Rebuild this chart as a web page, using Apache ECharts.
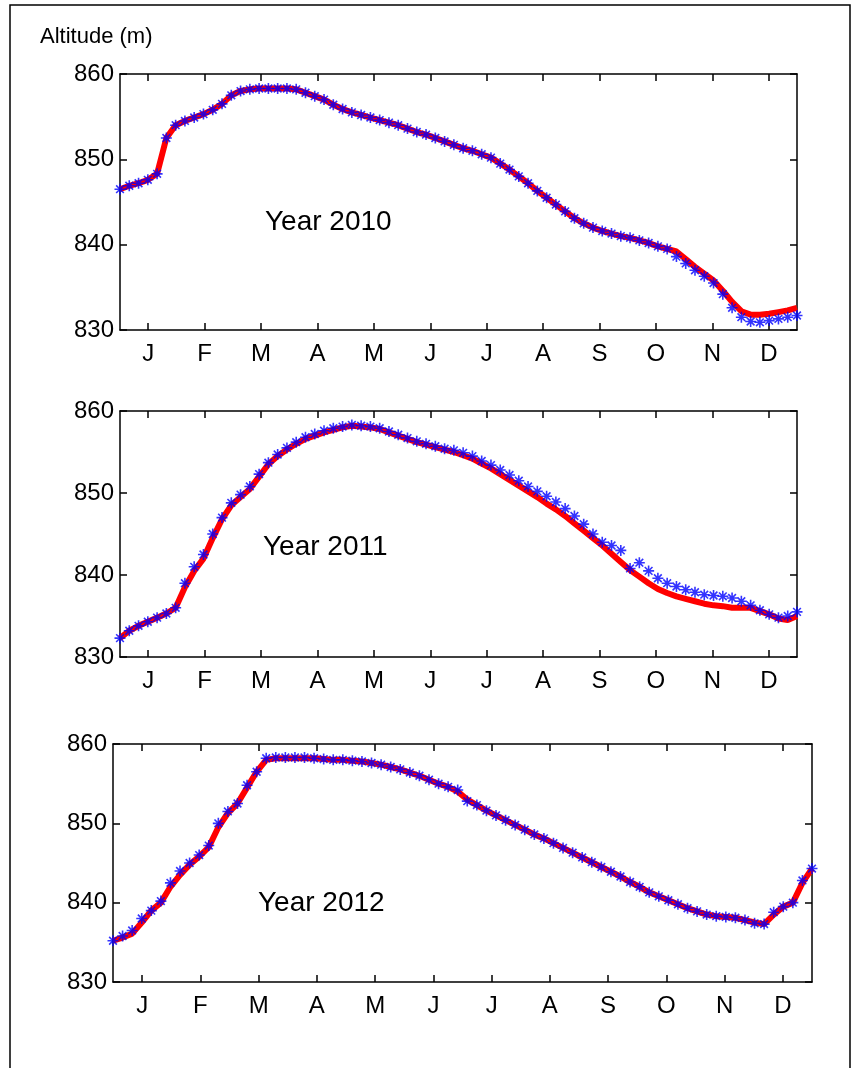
<!DOCTYPE html>
<html>
<head>
<meta charset="utf-8">
<script src="https://cdn.jsdelivr.net/npm/echarts@6/dist/echarts.min.js"></script>
<style>html,body{margin:0;padding:0;background:#fff}#chart{width:854px;height:1068px}</style>
</head>
<body>
<div id="chart"></div>
<script>
const months = ['J', 'F', 'M', 'A', 'M', 'J', 'J', 'A', 'S', 'O', 'N', 'D']
const years = ['Year 2010', 'Year 2011', 'Year 2012']
// altitude every 5 days, day 0..365
const red2010 = [846.5, 846.9, 847.2, 847.6, 848.3, 852.5, 854, 854.5, 854.9, 855.3, 855.8, 856.5, 857.5, 858, 858.2, 858.3, 858.3, 858.3, 858.3, 858.2, 857.8, 857.4, 857, 856.4, 855.9, 855.5, 855.2, 854.9, 854.6, 854.3, 854, 853.6, 853.2, 852.9, 852.5, 852.1, 851.7, 851.3, 851, 850.6, 850.2, 849.5, 848.8, 848, 847.2, 846.3, 845.5, 844.7, 843.9, 843.1, 842.5, 842, 841.6, 841.3, 841, 840.8, 840.5, 840.2, 839.8, 839.5, 839.2, 838.3, 837.4, 836.6, 835.8, 834.6, 833.3, 832.2, 831.8, 831.8, 831.9, 832.1, 832.3, 832.6]
const blue2010 = [846.5, 846.9, 847.2, 847.6, 848.3, 852.5, 854, 854.5, 854.9, 855.3, 855.8, 856.5, 857.5, 858, 858.2, 858.3, 858.3, 858.3, 858.3, 858.2, 857.8, 857.4, 857, 856.4, 855.9, 855.5, 855.2, 854.9, 854.6, 854.3, 854, 853.6, 853.2, 852.9, 852.5, 852.1, 851.7, 851.3, 851, 850.6, 850.2, 849.5, 848.8, 848, 847.2, 846.3, 845.5, 844.7, 843.9, 843.1, 842.5, 842, 841.6, 841.3, 841, 840.8, 840.5, 840.2, 839.8, 839.5, 838.6, 837.8, 837, 836.3, 835.5, 834.2, 832.6, 831.5, 831, 830.9, 831.1, 831.3, 831.5, 831.7]
const red2011 = [832.3, 833.2, 833.8, 834.3, 834.8, 835.3, 836, 838.5, 840.5, 842, 844.5, 846.8, 848.5, 849.5, 850.5, 852, 853.5, 854.5, 855.3, 856, 856.6, 857, 857.4, 857.7, 858, 858.2, 858.1, 858, 857.8, 857.4, 857, 856.6, 856.2, 855.9, 855.6, 855.3, 855, 854.6, 854.2, 853.6, 853, 852.3, 851.6, 850.9, 850.2, 849.5, 848.7, 848, 847.2, 846.3, 845.4, 844.5, 843.6, 842.6, 841.6, 840.6, 839.8, 839, 838.3, 837.8, 837.4, 837.1, 836.8, 836.5, 836.3, 836.2, 836, 836, 836, 835.6, 835.2, 834.7, 834.5, 835]
const blue2011 = [832.3, 833.2, 833.8, 834.3, 834.8, 835.3, 836, 839, 841, 842.5, 845, 847, 848.8, 849.8, 850.8, 852.3, 853.7, 854.7, 855.5, 856.2, 856.8, 857.2, 857.6, 857.9, 858.1, 858.3, 858.2, 858.1, 857.9, 857.5, 857.1, 856.7, 856.3, 856, 855.7, 855.4, 855.2, 854.9, 854.5, 853.9, 853.4, 852.8, 852.2, 851.5, 850.8, 850.2, 849.6, 848.9, 848.1, 847.2, 846.2, 845, 844, 843.6, 843, 840.8, 841.5, 840.5, 839.6, 839, 838.6, 838.2, 837.9, 837.6, 837.5, 837.4, 837.2, 836.8, 836.3, 835.7, 835.2, 834.8, 835, 835.5]
const red2012 = [835.2, 835.6, 836.1, 837.5, 839, 840, 842, 843.5, 844.8, 845.8, 847, 849.5, 851.3, 852.5, 854.5, 856.5, 858, 858.2, 858.2, 858.2, 858.2, 858.2, 858.1, 858, 858, 857.9, 857.8, 857.6, 857.4, 857.1, 856.8, 856.4, 856, 855.5, 855, 854.6, 854, 853, 852.3, 851.6, 851, 850.4, 849.8, 849.2, 848.6, 848.1, 847.5, 846.9, 846.3, 845.7, 845.1, 844.5, 843.9, 843.3, 842.6, 842, 841.3, 840.8, 840.3, 839.8, 839.3, 838.9, 838.5, 838.3, 838.2, 838.1, 837.8, 837.5, 837.3, 838.5, 839.5, 840, 842.5, 844.3]
const blue2012 = [835.2, 835.8, 836.5, 838, 839, 840.2, 842.5, 844, 845, 846, 847.2, 850, 851.5, 852.5, 854.8, 856.5, 858.2, 858.3, 858.3, 858.3, 858.3, 858.2, 858.1, 858, 858, 857.9, 857.8, 857.6, 857.4, 857.1, 856.8, 856.4, 856, 855.5, 855, 854.6, 854.2, 852.8, 852.3, 851.6, 851, 850.4, 849.8, 849.2, 848.6, 848.1, 847.5, 846.9, 846.3, 845.7, 845.1, 844.5, 843.9, 843.3, 842.6, 842, 841.3, 840.8, 840.3, 839.8, 839.3, 838.9, 838.5, 838.3, 838.2, 838.1, 837.8, 837.4, 837.3, 838.8, 839.5, 840, 842.8, 844.3]

const reds = [red2010, red2011, red2012]
const blues = [blue2010, blue2011, blue2012]
const grids = [
	{ left: 120, top: 74, width: 677, height: 256 },
	{ left: 120, top: 411, width: 677, height: 246 },
	{ left: 113, top: 744, width: 699, height: 238 },
]
const yearPos = [[265, 222], [263, 547], [258, 903]]

const font = 'Liberation Sans, Arial, sans-serif'
const star = 'path://M0,5L10,5M5,0L5,10M1.5,1.5L8.5,8.5M1.5,8.5L8.5,1.5'
const toPts = (arr) => arr.map((v, i) => [Math.min(i * 5, 365), v])
const tick = { show: true, inside: true, length: 7, lineStyle: { color: '#000', width: 1.5 } }
const line = { show: true, onZero: false, lineStyle: { color: '#000', width: 1.5 } }

const myChart = echarts.init(document.getElementById('chart'))

let xAxis = []
let yAxis = []
let series = []
grids.forEach((g, i) => {
	xAxis.push({ gridIndex: i, type: 'value', min: 0, max: 365, show: false })
	xAxis.push({
		gridIndex: i, type: 'category', data: months, position: 'bottom',
		axisLine: line, axisTick: { ...tick, alignWithLabel: true },
		axisLabel: { color: '#000', fontSize: 24, fontFamily: font, margin: 12 },
	})
	xAxis.push({
		gridIndex: i, type: 'category', data: months, position: 'top',
		axisLine: line, axisTick: { ...tick, alignWithLabel: true },
		axisLabel: { show: false },
	})
	yAxis.push({
		gridIndex: i, type: 'value', min: 830, max: 860, interval: 10, position: 'left',
		axisLine: line, axisTick: tick,
		axisLabel: { color: '#000', fontSize: 24, fontFamily: font, margin: 6 },
		splitLine: { show: false },
	})
	yAxis.push({
		gridIndex: i, type: 'value', min: 830, max: 860, interval: 10, position: 'right',
		axisLine: line, axisTick: tick,
		axisLabel: { show: false },
		splitLine: { show: false },
	})
	series.push({
		type: 'line', xAxisIndex: i * 3, yAxisIndex: i * 2, data: toPts(reds[i]),
		showSymbol: false, lineStyle: { color: '#f00', width: 6 }, z: 2, animation: false,
	})
	series.push({
		type: 'scatter', xAxisIndex: i * 3, yAxisIndex: i * 2, data: toPts(blues[i]),
		symbol: star, symbolSize: 11,
		itemStyle: { color: 'none', borderColor: '#00f', borderWidth: 1.6 }, z: 3, animation: false,
	})
})

let option = {
	animation: false,
	grid: grids,
	xAxis: xAxis,
	yAxis: yAxis,
	series: series,
	graphic: [
		{ type: 'rect', shape: { x: 10, y: 5, width: 840, height: 1080 }, style: { fill: 'none', stroke: '#000', lineWidth: 1.5 } },
		{ type: 'text', left: 40, top: 26, style: { text: 'Altitude (m)', font: '22px ' + font, fill: '#000' } },
		...years.map((t, i) => ({
			type: 'text', x: yearPos[i][0], y: yearPos[i][1],
			style: { text: t, font: '28px ' + font, fill: '#000', textVerticalAlign: 'middle' },
		})),
	],
}
myChart.setOption(option)

window.addEventListener('resize', () => {
	myChart.resize()
})
</script>
</body>
</html>
